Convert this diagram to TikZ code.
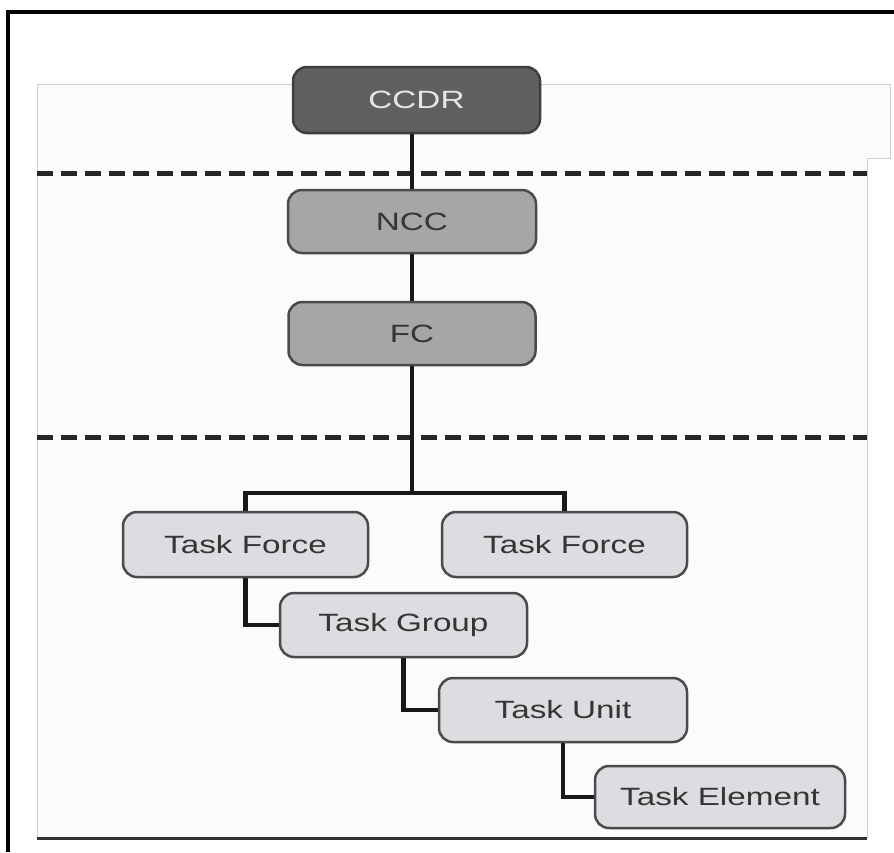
\documentclass[tikz,border=0pt]{standalone}
\usepackage{graphicx}
\usepackage{fontspec}
\setmainfont{Liberation Sans}
\definecolor{ccdrfill}{HTML}{606060}
\definecolor{ccdrdraw}{HTML}{3E3E3E}
\definecolor{ccdrtext}{HTML}{E6E6E6}
\definecolor{midfill}{HTML}{A6A6A6}
\definecolor{taskfill}{HTML}{DCDDE0}
\definecolor{boxdraw}{HTML}{4A4A4A}
\definecolor{boxtext}{HTML}{353535}
\definecolor{panelfill}{HTML}{FBFBFB}
\definecolor{panelline}{HTML}{CFCFCF}
\newcommand{\lbl}[1]{\scalebox{1.33}[1]{#1}}
\tikzset{
  orgbox/.style={rounded corners=14pt, draw=boxdraw, line width=2.5pt,
    inner sep=0pt, font=\fontsize{25}{30}\selectfont, text=boxtext},
  topbox/.style={orgbox, fill=ccdrfill, draw=ccdrdraw, text=ccdrtext},
  midbox/.style={orgbox, fill=midfill},
  taskbox/.style={orgbox, fill=taskfill},
  link/.style={draw=black!90, line width=4.5pt},
  sep/.style={draw=black!85, line width=5pt, dash pattern=on 16pt off 8pt}
}
\begin{document}
\begin{tikzpicture}[x=1pt,y=-1pt]
\useasboundingbox (0,0) rectangle (894,852);
\fill[white] (0,0) rectangle (894,852);
% panel
\filldraw[fill=panelfill, draw=panelline, line width=1pt]
  (37,838) -- (37,84) -- (890,84) -- (890,158) -- (867,158) -- (867,838) -- cycle;
\draw[draw=black!80, line width=3pt] (37,838) -- (867,838);
% outer frame
\draw[black, line width=4.5pt] (8,852) -- (8,12) -- (894,12);
% separators
\draw[sep] (37,173) -- (867,173);
\draw[sep] (37,437) -- (867,437);
% nodes
\node[topbox, minimum width=247pt, minimum height=66pt] (ccdr) at (416.5,100) {\lbl{CCDR}};
\node[midbox, minimum width=248pt, minimum height=63pt] (ncc) at (412,221.5) {\lbl{NCC}};
\node[midbox, minimum width=247pt, minimum height=63pt] (fc) at (412,333.5) {\lbl{FC}};
\node[taskbox, minimum width=245pt, minimum height=65pt] (tf1) at (245.5,544.5) {\lbl{Task Force}};
\node[taskbox, minimum width=245pt, minimum height=65pt] (tf2) at (564.5,544.5) {\lbl{Task Force}};
\node[taskbox, minimum width=247pt, minimum height=64pt] (tg) at (403.5,625) {\lbl{Task Group}};
\node[taskbox, minimum width=248pt, minimum height=64pt] (tu) at (563,710) {\lbl{Task Unit}};
\node[taskbox, minimum width=250pt, minimum height=62pt] (te) at (720,797) {\lbl{Task Element}};
\coordinate (br) at (412,493);
% connectors
\draw[link] (ncc.north |- ccdr.south) -- (ncc.north);
\draw[link] (ncc.south) -- (fc.north);
\draw[link] (fc.south) -- (br);
\draw[link] (tf1.north) |- (br) -| (tf2.north);
\draw[link] (tf1.south) |- (tg.west);
\draw[link] (tg.south) |- (tu.west);
\draw[link] (tu.south) |- (te.west);
\end{tikzpicture}
\end{document}
